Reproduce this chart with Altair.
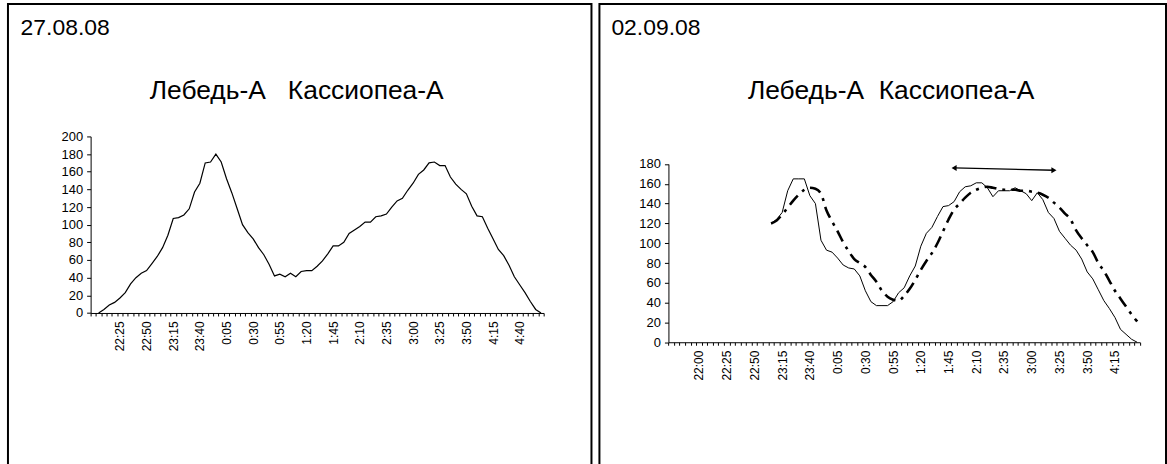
import json
import altair as alt
import pandas as pd

# ---------------- data ----------------
def time_cats(start_h, start_m, n):
    out = []
    t0 = start_h * 60 + start_m
    for k in range(n):
        m = (t0 + 5 * k) % (24 * 60)
        out.append(f"{m // 60}:{m % 60:02d}")
    return out

left_cats = time_cats(22, 0, 85)    # 22:00 .. 5:00
right_cats = time_cats(21, 35, 85)  # 21:35 .. 4:35

left_labels = ["22:25", "22:50", "23:15", "23:40", "0:05", "0:30", "0:55", "1:20",
               "1:45", "2:10", "2:35", "3:00", "3:25", "3:50", "4:15", "4:40"]
right_labels = ["22:00", "22:25", "22:50", "23:15", "23:40", "0:05", "0:30", "0:55",
                "1:20", "1:45", "2:10", "2:35", "3:00", "3:25", "3:50", "4:15"]

# 27.08.08, 22:05 .. 5:00
left_values = [0, 4, 9, 12, 17, 23, 33, 40, 45, 48,
               56, 64, 74, 88, 107, 108, 111, 118, 137, 147,
               170, 171, 180, 171, 152, 136, 118, 100, 91, 84,
               74, 66, 55, 42, 44, 41, 45, 41, 47, 48,
               48, 53, 59, 67, 76, 76, 80, 90, 94, 98,
               103, 103, 109, 110, 112, 120, 127, 130, 139, 147,
               157, 162, 170, 171, 167, 167, 154, 146, 140, 135,
               121, 110, 109, 96, 84, 72, 65, 54, 41, 32,
               23, 13, 4, 0]

# 02.09.08, 23:05 .. 4:35
right_solid = [120, 124, 131, 153, 165, 165, 165, 148, 140, 103,
               93, 91, 85, 78, 75, 74, 67, 52, 41, 37,
               37, 37, 41, 50, 55, 67, 77, 97, 110, 116,
               127, 137, 138, 142, 152, 157, 158, 161, 161, 156,
               147, 153, 153, 153, 156, 153, 150, 143, 151, 144,
               131, 125, 112, 105, 98, 93, 84, 71, 64, 53,
               42, 34, 25, 13, 8, 3, 0]
right_dash = [120, 123, 129, 136, 143, 149, 154, 156, 155, 150,
              133, 122, 112, 101, 92, 84, 80, 76, 68, 61,
              52, 46, 43, 42, 47, 54, 63, 73, 82, 90,
              100, 112, 124, 134, 140, 146, 151, 154, 156, 157,
              156, 155, 154, 154, 154, 153, 153, 152, 151, 149,
              146, 141, 136, 130, 124, 113, 105, 98, 91, 80,
              72, 62, 52, 44, 36, 28, 21]

arrow_times = ["1:50", "3:20"]
arrow_values = [176, 173.7]
arrow_dirs = ["l", "r"]

left_date = "27.08.08"
right_date = "02.09.08"
left_title = "Лебедь-А\u00a0\u00a0\u00a0Кассиопеа-А"
right_title = "Лебедь-А\u00a0\u00a0Кассиопеа-А"

FONT = "Liberation Sans"
H = 470


def xenc(cats, labels, rng, off):
    expr = "indexof(" + json.dumps(labels, ensure_ascii=False) + ", datum.value) >= 0 ? datum.value : ''"
    return alt.X(
        "t:O", bandPosition=0.5,
        scale=alt.Scale(type="band", domain=cats, range=rng, paddingInner=0, paddingOuter=0),
        axis=alt.Axis(title="", offset=off, labelExpr=expr, labelAngle=270, labelOverlap=False,
                      tickBand="extent", tickSize=3, labelPadding=5, labelFontSize=12,
                      labelFont=FONT, labelColor="black", domainColor="black",
                      tickColor="black", grid=False),
    )


def yenc(dom, rng, vals, off):
    return alt.Y(
        "v:Q",
        scale=alt.Scale(domain=dom, range=rng, nice=False, zero=True),
        axis=alt.Axis(title="", offset=off, values=vals, tickSize=4, labelPadding=4,
                      labelFontSize=13, labelFont=FONT, labelColor="black",
                      domainColor="black", tickColor="black", grid=False),
    )


def text_layer(s, x, y, align, size):
    return alt.Chart(pd.DataFrame({"s": [s]})).mark_text(
        align=align, baseline="alphabetic", fontSize=size, font=FONT, color="black"
    ).encode(text="s:N", x=alt.value(x), y=alt.value(y))


# ---------------- left panel ----------------
lx = xenc(left_cats, left_labels, [83, 538], -(H - 310.3))
ly = yenc([0, 200], [310.3, 133], list(range(0, 201, 20)), -83)

left_df = pd.DataFrame({"t": left_cats[1:], "v": left_values})
left_line = alt.Chart(left_df).mark_line(color="black", strokeWidth=1.2).encode(x=lx, y=ly)

left_panel = alt.layer(
    left_line,
    text_layer(left_date, 12.7, 31, "left", 23),
    text_layer(left_title, 290, 95, "center", 26.5),
).properties(width=586, height=H)

# ---------------- right panel ----------------
rx = xenc(right_cats, right_labels, [69.3, 542.8], -(H - 339.7))
ry = yenc([0, 180], [339.7, 160.7], list(range(0, 181, 20)), -69.3)

r_times = right_cats[18:]
solid_df = pd.DataFrame({"t": r_times, "v": right_solid})
dash_df = pd.DataFrame({"t": r_times, "v": right_dash})
arrow_df = pd.DataFrame({"t": arrow_times, "v": arrow_values, "d": arrow_dirs})

solid_line = alt.Chart(solid_df).mark_line(color="black", strokeWidth=1).encode(x=rx, y=ry)
dash_line = alt.Chart(dash_df).mark_line(
    color="black", strokeWidth=2.6, strokeDash=[12, 6, 3, 6], interpolate="monotone"
).encode(x=rx, y=ry)
arrow_shaft = alt.Chart(arrow_df).mark_line(color="black", strokeWidth=1.3).encode(x=rx, y=ry)
arrow_heads = alt.Chart(arrow_df).mark_point(filled=True, color="black", size=35, opacity=1).encode(
    x=rx, y=ry,
    shape=alt.Shape("d:N", scale=alt.Scale(domain=["l", "r"], range=["triangle-left", "triangle-right"]), legend=None),
)

right_panel = alt.layer(
    solid_line, dash_line, arrow_shaft, arrow_heads,
    text_layer(right_date, 12, 31, "left", 23),
    text_layer(right_title, 293, 95, "center", 26.5),
).properties(width=569, height=H)

chart = alt.hconcat(left_panel, right_panel, spacing=0).properties(
    padding={"left": 1, "top": 2, "right": 0, "bottom": 0},
    background="white",
).configure_view(stroke="black", strokeWidth=2)

chart.save("out.html", embed_options={"renderer": "svg", "actions": False})
